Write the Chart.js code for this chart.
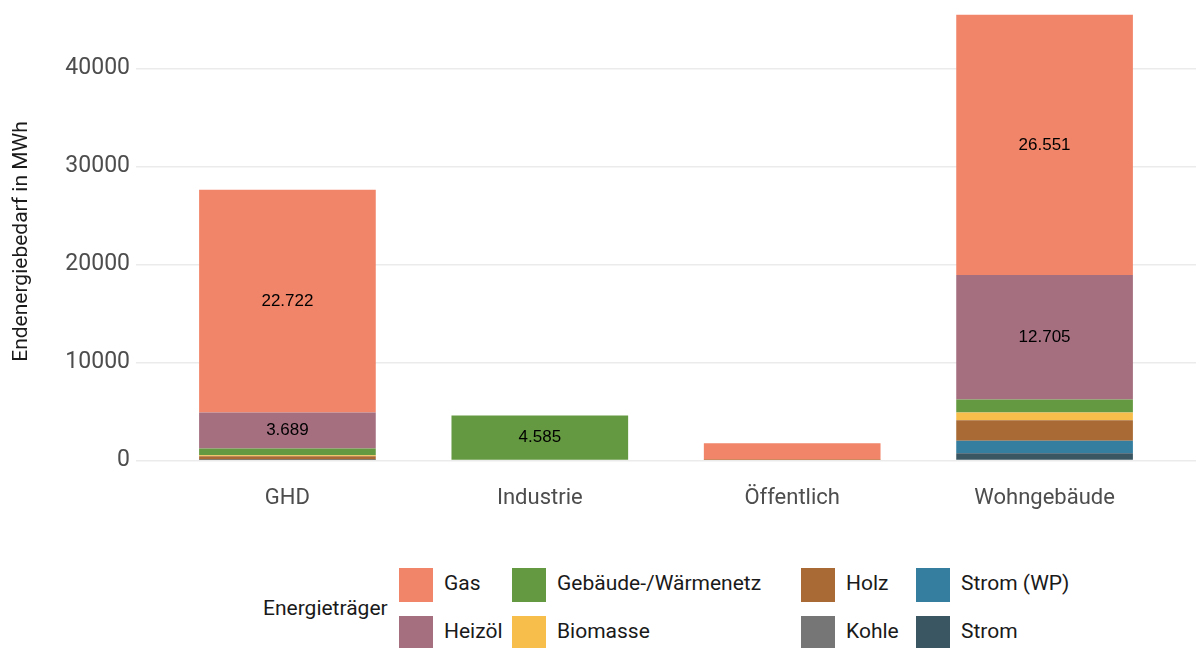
<!DOCTYPE html>
<html>
<head>
<meta charset="utf-8">
<script src="https://cdn.jsdelivr.net/npm/chart.js@4"></script>
<style>
  html, body { margin: 0; padding: 0; background: #fff; }
  #wrap { position: relative; width: 1196px; height: 648px; overflow: hidden; }
  #chart { position: absolute; left: 0; top: 0; }
  .lg { position: absolute; font-family: Roboto, "Liberation Sans", sans-serif; font-size: 21px; color: #1a1a1a; white-space: nowrap; }
  .key { position: absolute; width: 34px; height: 34px; }
</style>
</head>
<body>
<div id="wrap">
  <canvas id="chart" width="1196" height="545"></canvas>
  <div id="legend"></div>
</div>
<script>
// categories (x axis)
const categories = ["GHD", "Industrie", "Öffentlich", "Wohngebäude"];

// series, bottom of the stack first
const seriesNames = ["Strom", "Strom (WP)", "Kohle", "Holz", "Biomasse", "Gebäude-/Wärmenetz", "Heizöl", "Gas"];
const strom        = [50, 0, 0, 745];
const stromWP      = [30, 0, 0, 1255];
const kohle        = [0, 0, 0, 0];
const holz         = [350, 0, 0, 2110];
const biomasse     = [100, 0, 0, 790];
const waermenetz   = [680, 4585, 40, 1330];
const heizoel      = [3689, 0, 0, 12705];
const gas          = [22722, 0, 1720, 26551];
const seriesValues = [strom, stromWP, kohle, holz, biomasse, waermenetz, heizoel, gas];
const seriesColors = ["#3b5663", "#357ea0", "#767676", "#a96a35", "#f8be4b", "#659941", "#a56f80", "#f1856a"];

// y ticks
const yTicks = [0, 10000, 20000, 30000, 40000];

// legend order (column by column, two rows)
const legendOrder = ["Gas", "Heizöl", "Gebäude-/Wärmenetz", "Biomasse", "Holz", "Kohle", "Strom (WP)", "Strom"];

function fmtDE(v) {
    return String(Math.round(v)).replace(/\B(?=(\d{3})+(?!\d))/g, ".");
}

const datasets = seriesNames.map(function (name, i) {
    return {
        label: name,
        data: seriesValues[i].map(function (v, j) { return { x: j + 1, y: v }; }),
        backgroundColor: seriesColors[i],
        borderWidth: 0,
        barPercentage: 0.7,
        categoryPercentage: 1.0
    };
});

// value labels in the bigger segments
const segLabels = {
    id: "segLabels",
    afterDatasetsDraw: function (chart) {
        const ctx = chart.ctx;
        ctx.save();
        ctx.font = "17px 'Liberation Sans', Arial, sans-serif";
        ctx.fillStyle = "#000";
        ctx.textAlign = "center";
        ctx.textBaseline = "middle";
        chart.data.datasets.forEach(function (ds, i) {
            chart.getDatasetMeta(i).data.forEach(function (bar, j) {
                const v = ds.data[j].y;
                if (v < 3000) return;
                ctx.fillText(fmtDE(v), bar.x, (bar.y + bar.base) / 2);
            });
        });
        ctx.restore();
    }
};

new Chart(document.getElementById("chart").getContext("2d"), {
    type: "bar",
    data: { datasets: datasets },
    plugins: [segLabels],
    options: {
        responsive: false,
        animation: false,
        layout: { padding: 0 },
        plugins: { legend: { display: false }, tooltip: { enabled: false } },
        scales: {
            x: {
                type: "linear",
                stacked: true,
                offset: false,
                min: 0.4,
                max: 4.6,
                grid: { display: false, drawTicks: false },
                border: { display: false },
                afterBuildTicks: function (axis) {
                    axis.ticks = categories.map(function (c, i) { return { value: i + 1 }; });
                },
                afterFit: function (axis) {
                    axis.height = 62;
                    axis.paddingLeft = 0;
                    axis.paddingRight = 0;
                },
                ticks: {
                    padding: 2,
                    color: "#4d4d4d",
                    font: { family: "Roboto, 'Liberation Sans', sans-serif", size: 22 },
                    callback: function (v) { return categories[v - 1]; }
                }
            },
            y: {
                stacked: true,
                min: -2300,
                max: 47000,
                border: { display: false },
                grid: { color: "#ebebeb", lineWidth: 1.5, drawTicks: false },
                afterBuildTicks: function (axis) {
                    axis.ticks = yTicks.map(function (t) { return { value: t }; });
                },
                afterFit: function (axis) {
                    axis.width = 136;
                    axis.paddingTop = 0;
                    axis.paddingBottom = 0;
                },
                ticks: {
                    padding: 6,
                    color: "#4d4d4d",
                    font: { family: "Roboto, 'Liberation Sans', sans-serif", size: 23 },
                    callback: function (v) { return String(v); }
                },
                title: {
                    display: true,
                    text: "Endenergiebedarf in MWh",
                    color: "#1a1a1a",
                    padding: { top: 9, bottom: 0 },
                    font: { family: "Roboto, 'Liberation Sans', sans-serif", size: 21 }
                }
            }
        }
    }
});

// legend, built from the series names and colours
const legend = document.getElementById("legend");
const colX = [399, 512, 801, 916];
const rowY = [568, 616];
const title = document.createElement("div");
title.className = "lg";
title.textContent = "Energieträger";
title.style.left = "263px";
title.style.top = "596px";
legend.appendChild(title);
legendOrder.forEach(function (name, k) {
    const col = Math.floor(k / 2), row = k % 2;
    const key = document.createElement("div");
    key.className = "key";
    key.style.left = colX[col] + "px";
    key.style.top = rowY[row] + "px";
    key.style.background = seriesColors[seriesNames.indexOf(name)];
    legend.appendChild(key);
    const txt = document.createElement("div");
    txt.className = "lg";
    txt.textContent = name;
    txt.style.left = (colX[col] + 45) + "px";
    txt.style.top = (rowY[row] + 3) + "px";
    legend.appendChild(txt);
});
</script>
</body>
</html>
